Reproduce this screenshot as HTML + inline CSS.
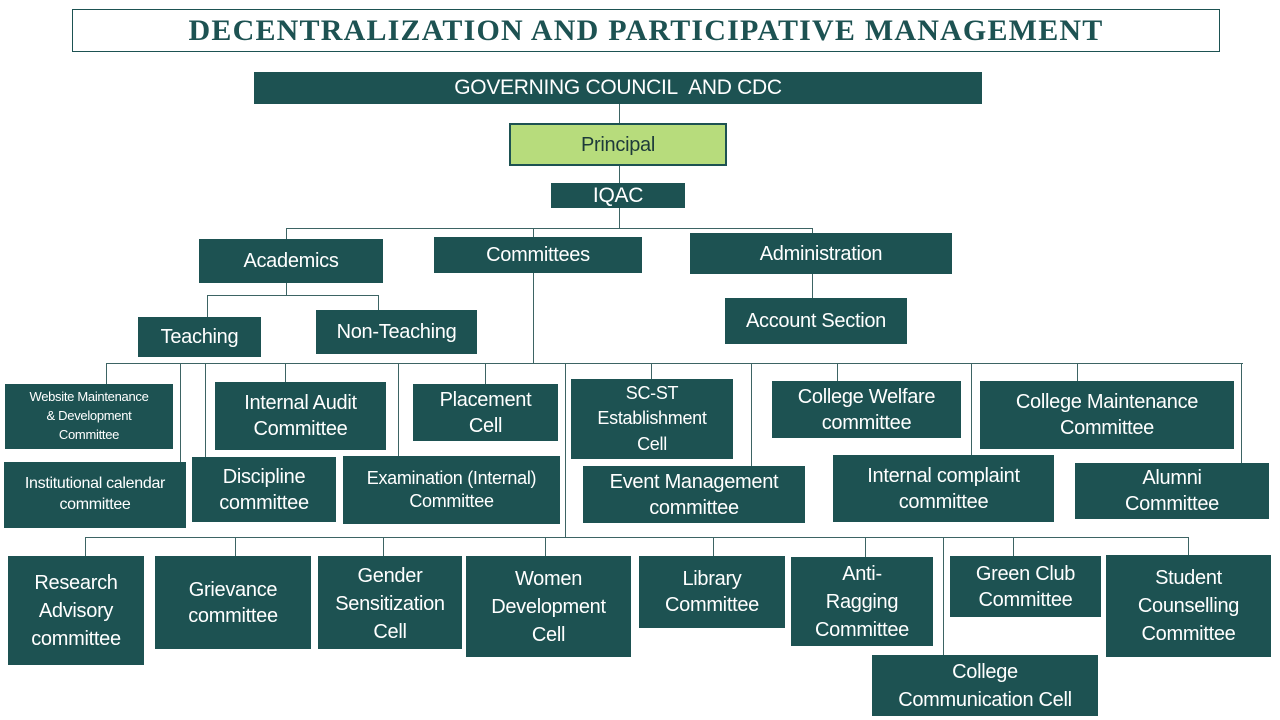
<!DOCTYPE html>
<html><head><meta charset="utf-8"><style>
body{margin:0;width:1280px;height:720px;background:#fff;position:relative;overflow:hidden;font-family:"Liberation Sans",sans-serif}
.b{position:absolute;background:#1d5252;color:#fff;display:flex;align-items:center;justify-content:center;text-align:center;font-size:20px;line-height:1.3;box-sizing:border-box;letter-spacing:-0.3px}
.h{position:absolute;height:1px;background:#3d6464}
.v{position:absolute;width:1px;background:#3d6464}
</style></head><body>
<div style="position:absolute;left:72px;top:9px;width:1148px;height:43px;border:1px solid #1d5252;box-sizing:border-box;display:flex;align-items:center;justify-content:center;font-family:'Liberation Serif',serif;font-weight:bold;font-size:30px;color:#1d5252;letter-spacing:1.2px">DECENTRALIZATION AND PARTICIPATIVE MANAGEMENT</div>

<div class="b" style="left:254px;top:72px;width:728px;height:32px;font-size:21px">GOVERNING COUNCIL &nbsp;AND CDC</div>
<div class="v" style="left:619px;top:104px;height:19px"></div>
<div class="b" style="left:509px;top:123px;width:218px;height:43px;background:#b7dc7c;color:#1d3a3a;border:2px solid #1d5252">Principal</div>
<div class="v" style="left:619px;top:166px;height:17px"></div>
<div class="b" style="left:551px;top:183px;width:134px;height:25px;font-size:21px">IQAC</div>
<div class="v" style="left:619px;top:208px;height:20px"></div>
<div class="h" style="left:286px;top:228px;width:527px"></div>
<div class="v" style="left:286px;top:228px;height:11px"></div>
<div class="v" style="left:533px;top:228px;height:9px"></div>
<div class="v" style="left:812px;top:228px;height:5px"></div>
<div class="b" style="left:199px;top:239px;width:184px;height:44px">Academics</div>
<div class="b" style="left:434px;top:237px;width:208px;height:36px">Committees</div>
<div class="b" style="left:690px;top:233px;width:262px;height:41px">Administration</div>
<div class="v" style="left:286px;top:283px;height:12px"></div>
<div class="h" style="left:207px;top:295px;width:172px"></div>
<div class="v" style="left:207px;top:295px;height:22px"></div>
<div class="v" style="left:378px;top:295px;height:15px"></div>
<div class="b" style="left:138px;top:317px;width:123px;height:40px">Teaching</div>
<div class="b" style="left:316px;top:310px;width:161px;height:44px">Non-Teaching</div>
<div class="v" style="left:812px;top:274px;height:24px"></div>
<div class="b" style="left:725px;top:298px;width:182px;height:46px">Account Section</div>

<div class="v" style="left:533px;top:273px;height:91px"></div>
<div class="h" style="left:106px;top:363px;width:1137px"></div>
<div class="v" style="left:106px;top:363px;height:21px"></div>
<div class="v" style="left:180px;top:363px;height:99px"></div>
<div class="v" style="left:205px;top:363px;height:94px"></div>
<div class="v" style="left:285px;top:363px;height:19px"></div>
<div class="v" style="left:398px;top:363px;height:93px"></div>
<div class="v" style="left:485px;top:363px;height:21px"></div>
<div class="v" style="left:565px;top:363px;height:174px"></div>
<div class="v" style="left:651px;top:363px;height:16px"></div>
<div class="v" style="left:751px;top:363px;height:103px"></div>
<div class="v" style="left:837px;top:363px;height:18px"></div>
<div class="v" style="left:971px;top:363px;height:92px"></div>
<div class="v" style="left:1077px;top:363px;height:18px"></div>
<div class="v" style="left:1241px;top:363px;height:100px"></div>

<div class="b" style="left:5px;top:384px;width:168px;height:65px;font-size:13px;line-height:1.45">Website Maintenance<br>&amp; Development<br>Committee</div>
<div class="b" style="left:4px;top:462px;width:182px;height:66px;font-size:16px">Institutional calendar<br>committee</div>
<div class="b" style="left:215px;top:382px;width:171px;height:68px">Internal Audit<br>Committee</div>
<div class="b" style="left:192px;top:457px;width:144px;height:65px">Discipline<br>committee</div>
<div class="b" style="left:413px;top:384px;width:145px;height:57px">Placement<br>Cell</div>
<div class="b" style="left:343px;top:456px;width:217px;height:68px;font-size:18px">Examination (Internal)<br>Committee</div>
<div class="b" style="left:571px;top:379px;width:162px;height:80px;font-size:18px;line-height:1.4">SC-ST<br>Establishment<br>Cell</div>
<div class="b" style="left:583px;top:466px;width:222px;height:57px">Event Management<br>committee</div>
<div class="b" style="left:772px;top:381px;width:189px;height:57px">College Welfare<br>committee</div>
<div class="b" style="left:980px;top:381px;width:254px;height:68px">College Maintenance<br>Committee</div>
<div class="b" style="left:833px;top:455px;width:221px;height:67px">Internal complaint<br>committee</div>
<div class="b" style="left:1075px;top:463px;width:194px;height:56px">Alumni<br>Committee</div>

<div class="h" style="left:85px;top:537px;width:1104px"></div>
<div class="v" style="left:85px;top:537px;height:19px"></div>
<div class="v" style="left:235px;top:537px;height:19px"></div>
<div class="v" style="left:383px;top:537px;height:19px"></div>
<div class="v" style="left:545px;top:537px;height:19px"></div>
<div class="v" style="left:713px;top:537px;height:19px"></div>
<div class="v" style="left:865px;top:537px;height:20px"></div>
<div class="v" style="left:943px;top:537px;height:118px"></div>
<div class="v" style="left:1013px;top:537px;height:19px"></div>
<div class="v" style="left:1188px;top:537px;height:18px"></div>

<div class="b" style="left:8px;top:556px;width:136px;height:109px;line-height:1.4">Research<br>Advisory<br>committee</div>
<div class="b" style="left:155px;top:556px;width:156px;height:93px">Grievance<br>committee</div>
<div class="b" style="left:318px;top:556px;width:144px;height:93px;line-height:1.4;align-items:flex-start;padding-top:6px">Gender<br>Sensitization<br>Cell</div>
<div class="b" style="left:466px;top:556px;width:165px;height:101px;line-height:1.4">Women<br>Development<br>Cell</div>
<div class="b" style="left:639px;top:556px;width:146px;height:72px">Library<br>Committee</div>
<div class="b" style="left:791px;top:557px;width:142px;height:89px;line-height:1.4">Anti-<br>Ragging<br>Committee</div>
<div class="b" style="left:950px;top:556px;width:151px;height:61px">Green Club<br>Committee</div>
<div class="b" style="left:1106px;top:555px;width:165px;height:102px;line-height:1.4">Student<br>Counselling<br>Committee</div>
<div class="b" style="left:872px;top:655px;width:226px;height:61px;line-height:1.4">College<br>Communication Cell</div>
</body></html>
